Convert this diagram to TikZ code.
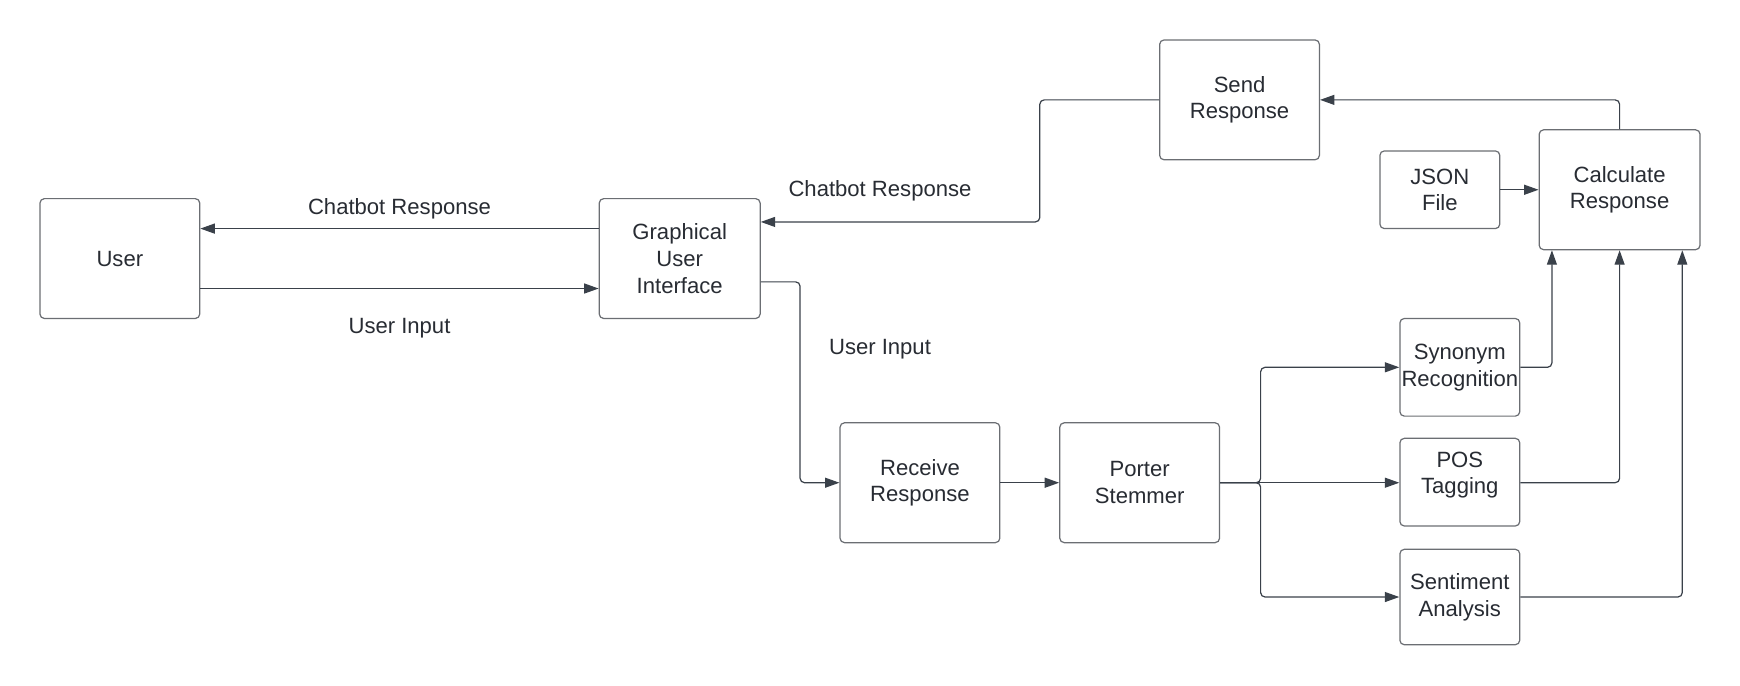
\documentclass[tikz,border=0pt]{standalone}
\usepackage{fontspec}
\setmainfont{Liberation Sans}
\usetikzlibrary{arrows.meta}
\definecolor{linec}{HTML}{3A414A}
\definecolor{boxc}{HTML}{6B6E73}
\definecolor{txtc}{HTML}{282C33}
\tikzset{
  box/.style={draw=boxc, line width=1.1pt, rounded corners=4pt, fill=white,
    inner sep=0pt, align=center, text=txtc,
    font=\fontsize{19.9}{24}\selectfont},
  conn/.style={draw=linec, line width=1.1pt, rounded corners=4pt,
    -{Triangle[length=13pt,width=9pt]}},
  lbl/.style={text=txtc, inner sep=0pt, align=center, font=\fontsize{19.9}{24}\selectfont}
}
\begin{document}
\begin{tikzpicture}[x=1pt,y=-1pt]
\useasboundingbox (0,0) rectangle (1568,617.3);
% boxes
\node[box, minimum width=144pt, minimum height=108pt] (user) at (108,233) {User};
\node[box, minimum width=145pt, minimum height=108pt] (gui) at (612.5,233) {Graphical\\User\\Interface};
\node[box, minimum width=144pt, minimum height=108pt] (send) at (1117,90) {Send\\Response};
\node[box, minimum width=108pt, minimum height=70pt] (json) at (1297.5,171) {JSON\\File};
\node[box, minimum width=145pt, minimum height=108pt] (calc) at (1459.5,171) {Calculate\\Response};
\node[box, minimum width=144pt, minimum height=108pt] (recv) at (829,435) {Receive\\Response};
\node[box, minimum width=144pt, minimum height=108pt] (port) at (1027,435) {Porter\\Stemmer};
\node[box, minimum width=108pt, minimum height=88pt] (syn) at (1315.5,331) {Synonym\\Recognition};
\node[box, minimum width=108pt, minimum height=79pt] (pos) at (1315.5,434.5) {};
\node[lbl] (posT) at (1315.5,428) {POS\\Tagging};
\node[box, minimum width=108pt, minimum height=86pt] (sent) at (1315.5,538) {Sentiment\\Analysis};
% labels
\node[lbl] (l1) at (360,188.5) {Chatbot Response};
\node[lbl] (l2) at (360,295.5) {User Input};
\node[lbl] (l3) at (793,171.5) {Chatbot Response};
\node[lbl] (l4) at (793,314.5) {User Input};
% connectors
\draw[conn] (gui.west |- 0,206) -- (user.east |- 0,206);
\draw[conn] (user.east |- 0,260) -- (gui.west |- 0,260);
\draw[conn] (send.west) -- (937,90) -- (937,200) -- (gui.east |- 0,200);
\draw[conn] (gui.east |- 0,254) -- (721,254) -- (721,435) -- (recv.west);
\draw[conn] (recv.east) -- (port.west);
\draw[conn] (port.east) -- (1136,435) -- (1136,331) -- (syn.west);
\draw[conn] (port.east) -- (pos.west |- port.east);
\draw[conn] (port.east) -- (1136,435) -- (1136,538) -- (sent.west);
\draw[conn] (syn.east) -- (1398.5,331) -- (calc.south -| 1398.5,0);
\draw[conn] (pos.east |- 0,435) -- (1459.5,435) -- (calc.south);
\draw[conn] (sent.east) -- (1516,538) -- (calc.south -| 1516,0);
\draw[conn] (json.east) -- (calc.west);
\draw[conn] (calc.north) -- (1459.5,90) -- (send.east);
\end{tikzpicture}
\end{document}
